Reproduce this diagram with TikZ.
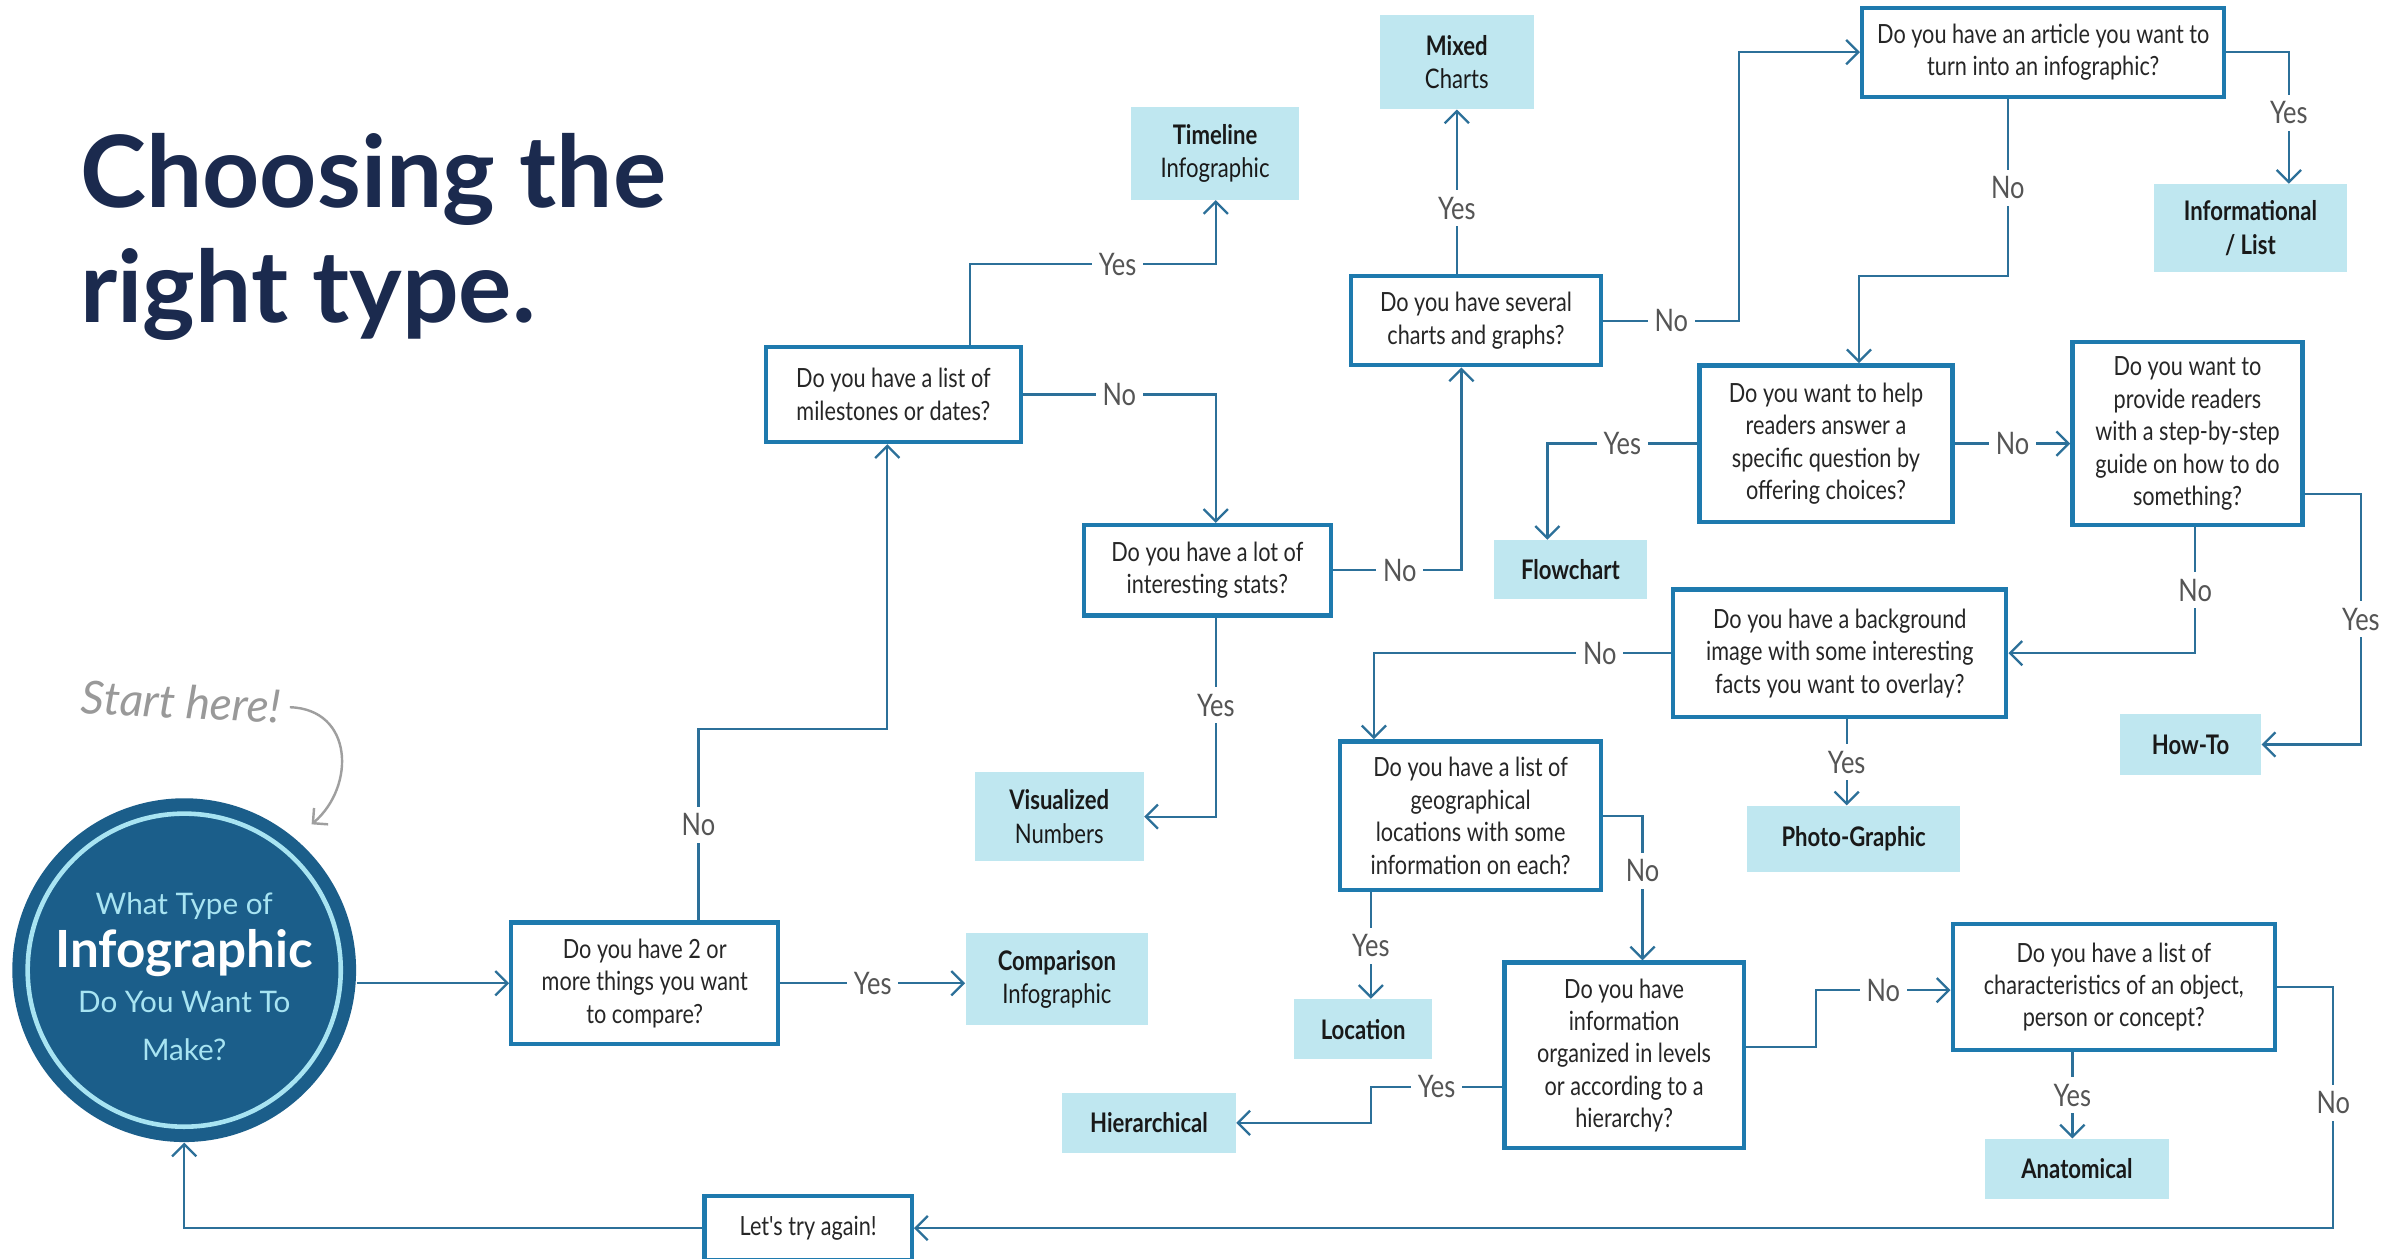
\documentclass[tikz,border=0pt]{standalone}
\usepackage{fontspec}
\setmainfont{Lato}
\newfontfamily\narrowfont{Lato}[FakeStretch=0.82]
\usetikzlibrary{arrows.meta}

\definecolor{navy}{HTML}{1B2A4E}
\definecolor{boxblue}{HTML}{1E7AAE}
\definecolor{wireblue}{HTML}{2C7099}
\definecolor{answer}{HTML}{BFE7F0}
\definecolor{ringcyan}{HTML}{A8E4F2}
\definecolor{startblue}{HTML}{1B5E8A}
\definecolor{labelgray}{HTML}{555555}

\begin{document}
\begin{tikzpicture}[
  x=0.02cm, y=-0.02cm,
  question/.style={draw=boxblue, line width=1.6pt, fill=white, align=center, inner sep=2pt,
    text=black!85, font=\narrowfont\fontsize{9.8}{12}\selectfont},
  answerbox/.style={fill=answer, align=center, inner sep=2pt,
    text=black!90, font=\narrowfont\fontsize{10}{12.5}\selectfont},
  lbl/.style={fill=white, text=labelgray, inner sep=2.5pt, font=\narrowfont\fontsize{11.5}{12}\selectfont},
  arr/.style={draw=wireblue, line width=0.85pt, -{Straight Barb[length=4.5pt, width=9pt]}}
]
\useasboundingbox[fill=white] (0,0) rectangle (1568,820);

% title and start
\node[anchor=base west, align=left, text=navy, font=\bfseries\fontsize{37}{42.5}\selectfont] (title) at (46,210) {Choosing the\\right type.};
\node[text=gray!80, font=\itshape\fontsize{17}{20}\selectfont, rotate=-3] (here) at (118,457) {Start here!};
\node[circle, fill=startblue, minimum size=4.48cm, inner sep=0pt] (start) at (120,632) {};
\draw[ringcyan, line width=1.7pt] (start.center) circle[radius=2.04cm];
\node[align=center, text=ringcyan, font=\fontsize{11}{18}\selectfont] (starttext) at (120,636)
  {What Type of\\[1.7pt]{\color{white}\bfseries\fontsize{19}{22}\selectfont Infographic}\\[-1.1pt]Do You Want To\\[-0.5pt]Make?};
\draw[gray!75, line width=0.9pt, -{Straight Barb[length=4pt, width=8pt]}] (here.east) .. controls (230,462) and (232,512) .. (203,537);

% questions and answers
\node[question, minimum width=3.48cm, minimum height=1.58cm] (compare) at (420,640.5) {Do you have 2 or\\more things you want\\to compare?};
\node[answerbox, minimum width=2.38cm, minimum height=1.2cm] (comparison) at (688.5,638) {\textbf{Comparison}\\Infographic};
\node[question, minimum width=3.32cm, minimum height=1.24cm] (milestones) at (582,257) {Do you have a list of\\milestones or dates?};
\node[answerbox, minimum width=2.18cm, minimum height=1.2cm] (timeline) at (791.5,100) {\textbf{Timeline}\\Infographic};
\node[question, minimum width=3.22cm, minimum height=1.18cm] (stats) at (786.5,371.5) {Do you have a lot of\\interesting stats?};
\node[answerbox, minimum width=2.2cm, minimum height=1.16cm] (numbers) at (690,532) {\textbf{Visualized}\\Numbers};
\node[question, minimum width=3.26cm, minimum height=1.16cm] (charts) at (961.5,209) {Do you have several\\charts and graphs?};
\node[answerbox, minimum width=2cm, minimum height=1.22cm] (mixed) at (949,40.5) {\textbf{Mixed}\\Charts};
\node[question, minimum width=4.72cm, minimum height=1.16cm] (article) at (1331,34) {Do you have an article you want to\\turn into an infographic?};
\node[answerbox, minimum width=2.52cm, minimum height=1.14cm] (informational) at (1466,148.5) {\textbf{Informational}\\\textbf{/ List}};
\node[question, minimum width=3.3cm, minimum height=2.04cm] (choices) at (1189.5,289) {Do you want to help\\readers answer a\\specific question by\\offering choices?};
\node[answerbox, minimum width=2cm, minimum height=0.76cm] (flowchart) at (1023,371) {\textbf{Flowchart}};
\node[question, minimum width=3cm, minimum height=2.38cm] (steps) at (1425,282.5) {Do you want to\\provide readers\\with a step-by-step\\guide on how to do\\something?};
\node[answerbox, minimum width=1.84cm, minimum height=0.8cm] (howto) at (1427,485) {\textbf{How-To}};
\node[question, minimum width=4.34cm, minimum height=1.66cm] (overlay) at (1198.5,425.5) {Do you have a background\\image with some interesting\\facts you want to overlay?};
\node[answerbox, minimum width=2.78cm, minimum height=0.86cm] (photo) at (1207.5,546.5) {\textbf{Photo-Graphic}};
\node[question, minimum width=3.4cm, minimum height=1.94cm] (geo) at (958,531.5) {Do you have a list of\\geographical\\locations with some\\information on each?};
\node[answerbox, minimum width=1.8cm, minimum height=0.78cm] (location) at (888,670.5) {\textbf{Location}};
\node[question, minimum width=3.12cm, minimum height=2.42cm] (levels) at (1058,687.5) {Do you have\\information\\organized in levels\\or according to a\\hierarchy?};
\node[answerbox, minimum width=2.26cm, minimum height=0.78cm] (hierarchical) at (748.5,731.5) {\textbf{Hierarchical}};
\node[question, minimum width=4.2cm, minimum height=1.64cm] (traits) at (1377,643) {Do you have a list of\\characteristics of an object,\\person or concept?};
\node[answerbox, minimum width=2.4cm, minimum height=0.78cm] (anatomical) at (1353,761.5) {\textbf{Anatomical}};
\node[question, minimum width=2.7cm, minimum height=0.84cm] (retry) at (526.5,800) {Let's try again!};

% connectors
\draw[arr] (start.east |- compare.west) -- (compare.west);
\draw[arr] (compare.east) -- node[lbl]{Yes} (comparison.west |- compare.east);
\draw[arr] (compare.north -| 455,0) -- node[lbl]{No} (455,475) -| (milestones.south -| 578,0);
\draw[arr] (milestones.north -| 632,0) |- node[lbl,pos=0.8]{Yes} (792,172) -- (timeline.south -| 792,0);
\draw[arr] (milestones.east) -| node[lbl,pos=0.25]{No} (stats.north -| 792,0);
\draw[arr] (stats.south -| 792,0) |- node[lbl,pos=0.22]{Yes} (numbers.east);
\draw[arr] (stats.east) -| node[lbl,pos=0.26]{No} (charts.south -| 952,0);
\draw[arr] (charts.north -| mixed.south) -- node[lbl,pos=0.4]{Yes} (mixed.south);
\draw[arr] (charts.east) -- node[lbl]{No} (1133,209) |- (article.west);
\draw[arr] (article.east) -| node[lbl,pos=0.73]{Yes} (informational.north -| 1491,0);
\draw[arr] (article.south -| 1308,0) -- node[lbl]{No} (1308,180) -| (choices.north -| 1211,0);
\draw[arr] (choices.west) -| node[lbl,pos=0.25]{Yes} (flowchart.north -| 1008,0);
\draw[arr] (choices.east) -- node[lbl]{No} (steps.west |- choices.east);
\draw[arr] (steps.east |- 0,322) -- (1538,322) -- node[lbl]{Yes} (1538,485) -- (howto.east);
\draw[arr] (steps.south -| 1430,0) -- node[lbl]{No} (1430,425.5) -- (overlay.east);
\draw[arr] (overlay.south -| 1203,0) -- node[lbl]{Yes} (photo.north -| 1203,0);
\draw[arr] (overlay.west) -| node[lbl,pos=0.12]{No} (geo.north -| 895,0);
\draw[arr] (geo.south -| 893,0) -- node[lbl]{Yes} (location.north -| 893,0);
\draw[arr] (geo.east) -| node[lbl,pos=0.69]{No} (levels.north -| 1070,0);
\draw[arr] (levels.west |- 0,708) -- node[lbl]{Yes} (893,708) |- (hierarchical.east);
\draw[arr] (levels.east |- 0,682) -| (1183,645) -- node[lbl]{No} (traits.west |- 0,645);
\draw[arr] (traits.south -| 1350,0) -- node[lbl]{Yes} (anatomical.north -| 1350,0);
\draw[arr] (traits.east) -| node[lbl,pos=0.74]{No} (1520,800) -- (retry.east);
\draw[arr] (retry.west) -| (start.south);
\end{tikzpicture}
\end{document}
